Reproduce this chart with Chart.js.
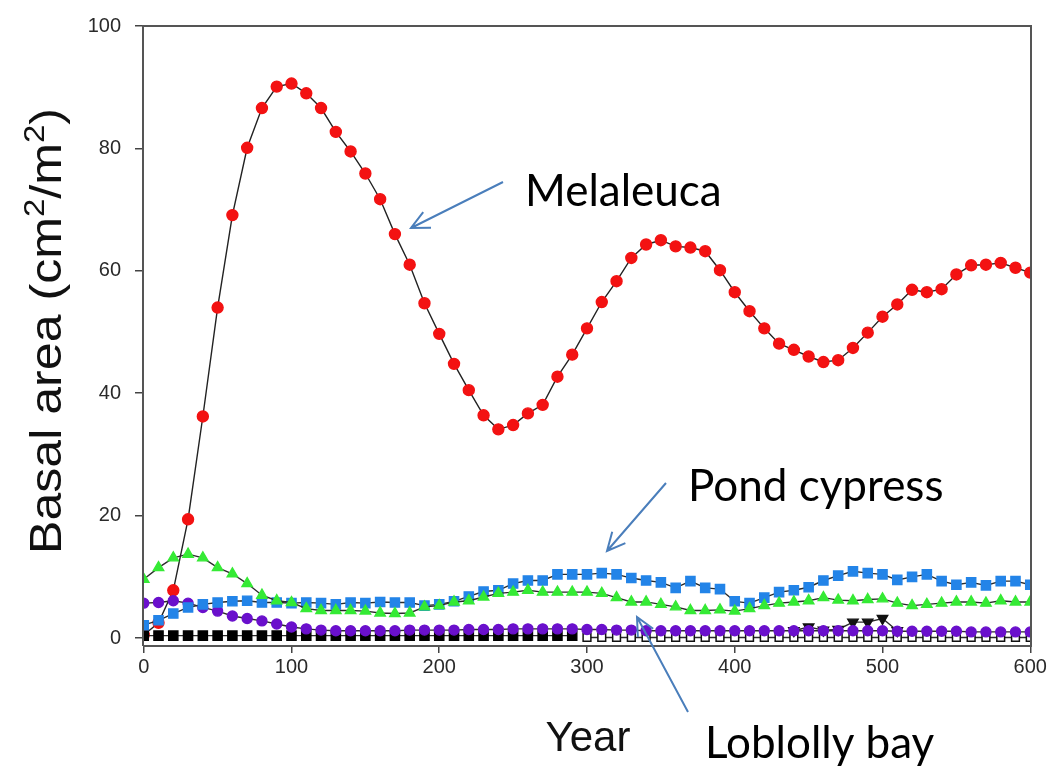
<!DOCTYPE html>
<html>
<head>
<meta charset="utf-8">
<script src="https://cdn.jsdelivr.net/npm/chart.js@4.4.0/dist/chart.umd.min.js"></script>
<style>
  html, body { margin: 0; padding: 0; background: #fff; }
  #wrap { width: 1054px; height: 767px; position: relative; }
</style>
</head>
<body>
<div id="wrap"><canvas id="chart" width="1054" height="767"></canvas></div>
<script>
// Simulated basal area per species, sampled every 10 years
const years = [];
for (let y = 0; y <= 600; y += 10) years.push(y);

const melaleuca = [
  0.5, 2.5, 7.8, 19.4, 36.2, 54.0, 69.1, 80.1, 86.6, 90.1, 90.6, 89.0,
  86.6, 82.7, 79.5, 75.9, 71.7, 66.0, 61.0, 54.7, 49.7, 44.8, 40.5, 36.4,
  34.1, 34.8, 36.7, 38.1, 42.7, 46.3, 50.6, 54.9, 58.3, 62.1, 64.3, 65.0,
  64.0, 63.8, 63.2, 60.1, 56.5, 53.4, 50.6, 48.1, 47.1, 46.0, 45.1, 45.4,
  47.4, 49.9, 52.5, 54.5, 56.9, 56.5, 57.0, 59.4, 60.9, 61.0, 61.3, 60.5, 59.7
];
const pondCypress = [
  2.1, 2.9, 4.0, 5.0, 5.5, 5.8, 6.0, 6.1, 5.8, 5.8, 5.7, 5.8,
  5.7, 5.5, 5.8, 5.7, 5.9, 5.8, 5.8, 5.3, 5.5, 6.0, 6.8, 7.6,
  7.8, 8.9, 9.4, 9.4, 10.4, 10.4, 10.4, 10.6, 10.4, 9.8, 9.4, 9.1,
  8.2, 9.3, 8.2, 8.0, 6.0, 5.7, 6.6, 7.5, 7.8, 8.3, 9.4, 10.2,
  10.9, 10.6, 10.4, 9.5, 10.0, 10.4, 9.3, 8.7, 9.1, 8.6, 9.3, 9.3, 8.7
];
const loblollyBay = [
  9.6, 11.5, 13.1, 13.7, 13.1, 11.5, 10.5, 8.9, 7.0, 6.1, 5.8, 4.8,
  4.5, 4.5, 4.5, 4.4, 4.1, 4.0, 4.1, 5.1, 5.3, 5.9, 6.1, 6.7,
  7.3, 7.5, 7.8, 7.5, 7.5, 7.5, 7.5, 7.3, 6.6, 5.9, 5.9, 5.5,
  5.1, 4.5, 4.5, 4.6, 4.4, 4.8, 5.3, 5.7, 5.9, 6.1, 6.6, 6.2,
  6.1, 6.3, 6.4, 5.7, 5.3, 5.5, 5.7, 5.9, 5.9, 5.7, 6.1, 5.9, 5.9
];
const purpleSp = [
  5.7, 5.8, 6.1, 5.7, 5.0, 4.4, 3.6, 3.2, 2.8, 2.3, 1.8, 1.5,
  1.3, 1.2, 1.2, 1.2, 1.2, 1.2, 1.3, 1.3, 1.3, 1.3, 1.4, 1.4,
  1.4, 1.5, 1.5, 1.5, 1.5, 1.5, 1.4, 1.4, 1.3, 1.3, 1.2, 1.2,
  1.2, 1.2, 1.2, 1.2, 1.2, 1.2, 1.2, 1.2, 1.2, 1.2, 1.2, 1.2,
  1.2, 1.2, 1.2, 1.1, 1.1, 1.1, 1.1, 1.1, 1.0, 1.0, 1.0, 1.0, 1.0
];
// black inverted triangles, only shown where they rise above the purple series
const triYears = [440, 450, 460, 470, 480, 490, 500, 510];
const triVals = [1.2, 1.8, 1.3, 1.4, 2.6, 2.6, 3.2, 1.2];
// filled black squares (first half) and open squares (second half)
const blackSqYears = years.filter(y => y <= 290);
const blackSqVals = [
  0.4, 0.4, 0.4, 0.4, 0.4, 0.4, 0.4, 0.4, 0.4, 0.4, 0.4, 0.4, 0.4, 0.4, 0.4,
  0.4, 0.4, 0.4, 0.4, 0.4, 0.4, 0.4, 0.4, 0.4, 0.4, 0.4, 0.4, 0.4, 0.4, 0.4
];
const openSqYears = years.filter(y => y >= 300);
const openSqVals = [
  0.1, 0.1, 0.1, 0.1, 0.1, 0.1, 0.1, 0.1, 0.1, 0.1, 0.1, 0.1, 0.1, 0.1, 0.1, 0.1,
  0.1, 0.1, 0.1, 0.1, 0.1, 0.1, 0.1, 0.1, 0.1, 0.1, 0.1, 0.1, 0.1, 0.1, 0.1
];

const xTicks = [0, 100, 200, 300, 400, 500, 600];
const yTicks = [0, 20, 40, 60, 80, 100];

function pts(xs, ys) {
  return xs.map((x, i) => ({ x: x, y: ys[i] }));
}

function series(data, style, order) {
  return Object.assign({
    data: data,
    borderColor: '#2b2b2b',
    borderWidth: 1.4,
    tension: 0,
    order: order
  }, style);
}

// arrows and species names drawn over the chart
const notes = [
  { text: 'Melaleuca', x: 525, y: 206, from: [503, 182], to: [411, 228] },
  { text: 'Pond cypress', x: 688, y: 501, from: [666, 483], to: [607, 551] },
  { text: 'Loblolly bay', x: 705, y: 758, from: [688, 712], to: [637, 617] }
];

const overlay = {
  id: 'overlay',
  afterDraw(chart) {
    const ctx = chart.ctx;
    const a = chart.chartArea;
    ctx.save();
    // frame
    ctx.strokeStyle = '#555';
    ctx.lineWidth = 2;
    ctx.beginPath();
    ctx.moveTo(a.left, a.bottom);
    ctx.lineTo(a.left, a.top);
    ctx.lineTo(a.right, a.top);
    ctx.lineTo(a.right, a.bottom);
    ctx.lineTo(a.left, a.bottom);
    ctx.stroke();

    // y axis title with superscripts, narrow like the original
    ctx.fillStyle = '#111';
    ctx.translate(61, 331);
    ctx.rotate(-Math.PI / 2);
    const big = '44px "Liberation Sans", Arial, sans-serif';
    const small = '29px "Liberation Sans", Arial, sans-serif';
    const parts = [
      ['Basal area (cm', big, 0], ['2', small, -17], ['/m', big, 0], ['2', small, -17], [')', big, 0]
    ];
    let w = 0;
    parts.forEach(p => { ctx.font = p[1]; w += ctx.measureText(p[0]).width; });
    ctx.scale(446 / w, 1);
    let cx = -w / 2;
    ctx.textBaseline = 'alphabetic';
    parts.forEach(p => {
      ctx.font = p[1];
      ctx.fillText(p[0], cx, p[2]);
      cx += ctx.measureText(p[0]).width;
    });
    ctx.setTransform(1, 0, 0, 1, 0, 0);

    // x axis title
    ctx.font = '42px "Liberation Sans", Arial, sans-serif';
    ctx.textAlign = 'center';
    ctx.fillText('Year', 588, 751);

    // arrows and labels
    ctx.textAlign = 'left';
    ctx.font = '44px Lato, "Open Sans", sans-serif';
    notes.forEach(n => {
      ctx.fillStyle = '#000';
      ctx.fillText(n.text, n.x, n.y);
      const [x1, y1] = n.from, [x2, y2] = n.to;
      const ang = Math.atan2(y2 - y1, x2 - x1);
      ctx.strokeStyle = '#4a7ebb';
      ctx.lineWidth = 2;
      ctx.beginPath();
      ctx.moveTo(x1, y1);
      ctx.lineTo(x2, y2);
      const hl = 20, hs = 0.45;
      ctx.moveTo(x2 - hl * Math.cos(ang - hs), y2 - hl * Math.sin(ang - hs));
      ctx.lineTo(x2, y2);
      ctx.lineTo(x2 - hl * Math.cos(ang + hs), y2 - hl * Math.sin(ang + hs));
      ctx.stroke();
    });
    ctx.restore();
  }
};

const tickFont = { family: '"Liberation Sans", Arial, sans-serif', size: 20 };

new Chart(document.getElementById('chart'), {
  type: 'line',
  data: {
    datasets: [
      series(pts(years, melaleuca), {
        label: 'Melaleuca', pointStyle: 'circle', pointRadius: 5.5,
        pointBackgroundColor: '#f31212', pointBorderColor: '#f31212', borderColor: '#222'
      }, 7),
      series(pts(years, loblollyBay), {
        label: 'Loblolly bay', pointStyle: 'triangle', pointRadius: 6,
        pointBackgroundColor: '#35ea35', pointBorderColor: '#35ea35'
      }, 1),
      series(pts(years, pondCypress), {
        label: 'Pond cypress', pointStyle: 'rect', pointRadius: 6.5,
        pointBackgroundColor: '#2384e8', pointBorderColor: '#2384e8'
      }, 2),
      series(pts(years, purpleSp), {
        label: 'Other', pointStyle: 'circle', pointRadius: 5,
        pointBackgroundColor: '#6a10cc', pointBorderColor: '#6a10cc'
      }, 3),
      series(pts(triYears, triVals), {
        label: 'Other 2', pointStyle: 'triangle', rotation: 180, pointRadius: 6,
        pointBackgroundColor: '#111', pointBorderColor: '#111'
      }, 4),
      series(pts(openSqYears, openSqVals), {
        label: 'Other 3', pointStyle: 'rect', pointRadius: 5.5, pointBorderWidth: 1.5,
        pointBackgroundColor: '#fff', pointBorderColor: '#111'
      }, 5),
      series(pts(blackSqYears, blackSqVals), {
        label: 'Other 4', pointStyle: 'rect', pointRadius: 6.5,
        pointBackgroundColor: '#000', pointBorderColor: '#000'
      }, 6)
    ]
  },
  options: {
    responsive: false,
    animation: false,
    layout: { padding: { top: 20, right: 23, left: 0, bottom: 0 } },
    plugins: { legend: { display: false }, tooltip: { enabled: false } },
    scales: {
      x: {
        type: 'linear', min: -0.5, max: 600.5,
        afterFit(s) { s.height = 121; },
        afterBuildTicks(s) { s.ticks = xTicks.map(v => ({ value: v })); },
        border: { display: false },
        grid: { drawOnChartArea: false, tickLength: 7, color: '#444', lineWidth: 1.5 },
        ticks: { color: '#2a2a2a', font: tickFont, padding: 2, maxRotation: 0 }
      },
      y: {
        min: -1.3, max: 100,
        afterFit(s) { s.width = 143; },
        afterBuildTicks(s) { s.ticks = yTicks.map(v => ({ value: v })); },
        border: { display: false },
        grid: { drawOnChartArea: false, tickLength: 8, color: '#444', lineWidth: 1.5 },
        ticks: { color: '#2a2a2a', font: tickFont, padding: 14 }
      }
    }
  },
  plugins: [overlay]
});
</script>
</body>
</html>
